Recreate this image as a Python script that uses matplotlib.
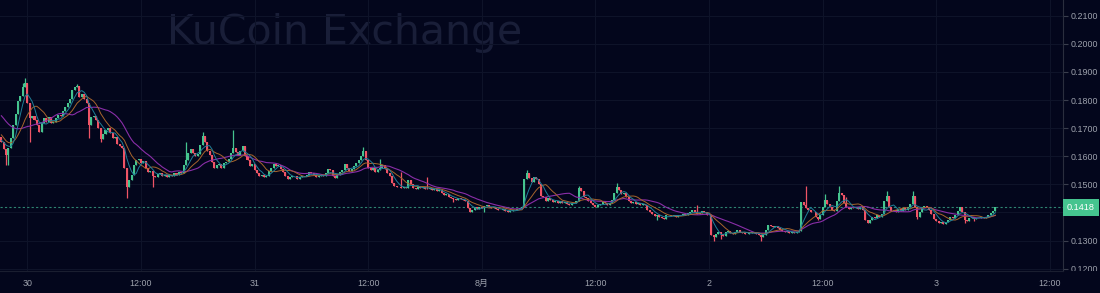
import numpy as np
import pandas as pd
import matplotlib
matplotlib.use("Agg")
import matplotlib.pyplot as plt
import matplotlib.transforms as mtransforms

plt.rcParams['font.family'] = ['Liberation Sans', 'Noto Sans CJK JP', 'DejaVu Sans']

# 15 minute closes, first candle at Jul 29 21:15
closes = [
    0.1650, 0.1625, 0.1605, 0.1630, 0.1665, 0.1710, 0.1752, 0.1795,
    0.1815, 0.1845, 0.1860, 0.1790, 0.1735, 0.1745, 0.1728, 0.1712,
    0.1685, 0.1720, 0.1735, 0.1722, 0.1738, 0.1718, 0.1722, 0.1735,
    0.1748, 0.1742, 0.1762, 0.1775, 0.1790, 0.1805, 0.1835, 0.1848,
    0.1850, 0.1812, 0.1822, 0.1805, 0.1790, 0.1712, 0.1738, 0.1745,
    0.1730, 0.1700, 0.1662, 0.1680, 0.1695, 0.1700, 0.1682, 0.1665,
    0.1670, 0.1645, 0.1638, 0.1630, 0.1560, 0.1490, 0.1515, 0.1535,
    0.1570, 0.1585, 0.1590, 0.1575, 0.1582, 0.1560, 0.1545, 0.1548,
    0.1530, 0.1525, 0.1538, 0.1542, 0.1530, 0.1535, 0.1525, 0.1532,
    0.1528, 0.1540, 0.1535, 0.1545, 0.1540, 0.1570, 0.1585, 0.1610,
    0.1625, 0.1612, 0.1600, 0.1608, 0.1640, 0.1672, 0.1650, 0.1620,
    0.1605, 0.1580, 0.1560, 0.1568, 0.1572, 0.1560, 0.1575, 0.1578,
    0.1590, 0.1612, 0.1628, 0.1615, 0.1605, 0.1620, 0.1638, 0.1600,
    0.1585, 0.1565, 0.1572, 0.1550, 0.1540, 0.1528, 0.1535, 0.1525,
    0.1530, 0.1548, 0.1560, 0.1572, 0.1565, 0.1570, 0.1555, 0.1545,
    0.1530, 0.1520, 0.1525, 0.1530, 0.1528, 0.1520, 0.1525, 0.1530,
    0.1528, 0.1535, 0.1545, 0.1540, 0.1532, 0.1525, 0.1530, 0.1535,
    0.1530, 0.1540, 0.1555, 0.1550, 0.1528, 0.1522, 0.1535, 0.1545,
    0.1552, 0.1572, 0.1560, 0.1548, 0.1555, 0.1565, 0.1575, 0.1585,
    0.1600, 0.1618, 0.1585, 0.1560, 0.1550, 0.1558, 0.1545, 0.1552,
    0.1560, 0.1570, 0.1555, 0.1540, 0.1530, 0.1505, 0.1495, 0.1490,
    0.1492, 0.1488, 0.1490, 0.1487, 0.1515, 0.1500, 0.1488, 0.1485,
    0.1490, 0.1487, 0.1492, 0.1485, 0.1482, 0.1488, 0.1480, 0.1485,
    0.1478, 0.1480, 0.1468, 0.1462, 0.1465, 0.1455, 0.1450, 0.1448,
    0.1445, 0.1450, 0.1448, 0.1445, 0.1440, 0.1415, 0.1402, 0.1410,
    0.1420, 0.1412, 0.1418, 0.1415, 0.1422, 0.1428, 0.1420, 0.1415,
    0.1418, 0.1412, 0.1410, 0.1408, 0.1412, 0.1405, 0.1402, 0.1405,
    0.1408, 0.1410, 0.1412, 0.1415, 0.1418, 0.1520, 0.1540, 0.1522,
    0.1510, 0.1525, 0.1520, 0.1500, 0.1460, 0.1455, 0.1440, 0.1450,
    0.1445, 0.1438, 0.1442, 0.1435, 0.1440, 0.1432, 0.1438, 0.1430,
    0.1425, 0.1435, 0.1432, 0.1440, 0.1488, 0.1475, 0.1455, 0.1450,
    0.1440, 0.1435, 0.1428, 0.1418, 0.1425, 0.1430, 0.1438, 0.1432,
    0.1428, 0.1435, 0.1445, 0.1470, 0.1490, 0.1480, 0.1465, 0.1468,
    0.1455, 0.1440, 0.1435, 0.1438, 0.1430, 0.1432, 0.1428, 0.1430,
    0.1425, 0.1410, 0.1400, 0.1395, 0.1388, 0.1392, 0.1385, 0.1380,
    0.1378, 0.1390, 0.1392, 0.1388, 0.1390, 0.1385, 0.1392, 0.1390,
    0.1395, 0.1392, 0.1398, 0.1402, 0.1408, 0.1400, 0.1395, 0.1398,
    0.1405, 0.1400, 0.1392, 0.1390, 0.1320, 0.1312, 0.1322, 0.1330,
    0.1325, 0.1318, 0.1330, 0.1335, 0.1328, 0.1322, 0.1330, 0.1338,
    0.1332, 0.1328, 0.1325, 0.1322, 0.1328, 0.1330, 0.1328, 0.1325,
    0.1320, 0.1312, 0.1320, 0.1338, 0.1355, 0.1352, 0.1348, 0.1352,
    0.1345, 0.1338, 0.1335, 0.1330, 0.1335, 0.1328, 0.1330, 0.1326,
    0.1330, 0.1335, 0.1438, 0.1425, 0.1415, 0.1410, 0.1402, 0.1400,
    0.1385, 0.1378, 0.1390, 0.1420, 0.1445, 0.1430, 0.1418, 0.1410,
    0.1405, 0.1440, 0.1470, 0.1462, 0.1435, 0.1420, 0.1412, 0.1418,
    0.1415, 0.1420, 0.1412, 0.1418, 0.1410, 0.1375, 0.1362, 0.1372,
    0.1385, 0.1380, 0.1390, 0.1385, 0.1395, 0.1440, 0.1458, 0.1420,
    0.1405, 0.1410, 0.1402, 0.1412, 0.1405, 0.1415, 0.1410, 0.1418,
    0.1430, 0.1460, 0.1420, 0.1385, 0.1400, 0.1418, 0.1422, 0.1418,
    0.1410, 0.1395, 0.1378, 0.1368, 0.1362, 0.1365, 0.1360, 0.1365,
    0.1375, 0.1385, 0.1382, 0.1390, 0.1405, 0.1420, 0.1400, 0.1375,
    0.1370, 0.1380, 0.1385, 0.1378, 0.1382, 0.1380, 0.1385, 0.1380,
    0.1385, 0.1390, 0.1398, 0.1405, 0.1418,
]

# closes before the visible window, only used to warm up the moving averages
prior_closes = [
    0.1810, 0.1815, 0.1822, 0.1818, 0.1812, 0.1808, 0.1815, 0.1820,
    0.1812, 0.1805, 0.1812, 0.1798, 0.1735, 0.1710, 0.1690, 0.1675,
    0.1668, 0.1660, 0.1655, 0.1650, 0.1668,
]

# visible wicks (candle index -> price)
wick_highs = {9: 0.1862, 10: 0.1880, 32: 0.1858, 78: 0.1650, 85: 0.1688,
              98: 0.1695, 153: 0.1632, 160: 0.1590, 169: 0.1545, 180: 0.1525,
              222: 0.1550, 244: 0.1495, 260: 0.1505, 294: 0.1425, 340: 0.1495,
              348: 0.1465, 354: 0.1495, 357: 0.1455, 374: 0.1475, 385: 0.1475}
wick_lows = {2: 0.1570, 3: 0.1568, 12: 0.1650, 37: 0.1665, 42: 0.1650,
             53: 0.1452, 64: 0.1490, 191: 0.1438, 204: 0.1402, 277: 0.1372,
             301: 0.1300, 304: 0.1305, 321: 0.1300, 345: 0.1373, 387: 0.1378,
             407: 0.1362, 411: 0.1368}

last_price = 0.1418
x_ticks = [0, 0.5, 1, 1.5, 2, 2.5, 3, 3.5, 4, 4.5]
x_labels = ['30', '12:00', '31', '12:00', '8月', '12:00', '2', '12:00', '3', '12:00']
y_ticks = [0.12, 0.13, 0.14, 0.15, 0.16, 0.17, 0.18, 0.19, 0.20, 0.21]

BG = '#03061c'
GRID = '#0e1329'
UP = '#45c48f'
DOWN = '#ef5466'
TXT = '#9ea2ad'

n = len(closes)
t = -2.75 / 24 + np.arange(n) / 96.0   # days since Jul 30 00:00
opens = [prior_closes[-1]] + closes[:-1]
highs, lows = [], []
for i, (o, c) in enumerate(zip(opens, closes)):
    highs.append(max(o, c, wick_highs.get(i, 0)))
    lows.append(min(o, c, wick_lows.get(i, 1)))

series = pd.Series(prior_closes + closes)
k = len(prior_closes)
ma5 = series.rolling(5).mean().iloc[k:].values
ma10 = series.rolling(10).mean().iloc[k:].values
ma20 = series.rolling(20).mean().iloc[k:].values

fig = plt.figure(figsize=(11, 2.93), dpi=100, facecolor=BG)
ax = fig.add_axes([0, 22 / 293, 1063 / 1100, 271 / 293])
ax.set_facecolor(BG)

ax.text(167 / 1063, (271 - 44) / 271, 'KuCoin Exchange', transform=ax.transAxes,
        family='DejaVu Sans', fontsize=29.5, color='#191e38', va='baseline',
        ha='left', zorder=0)

ax.set_xticks(x_ticks)
ax.set_xticklabels(x_labels)
ax.set_yticks(y_ticks)
ax.set_yticklabels(['%.4f' % v for v in y_ticks])
ax.grid(True, color=GRID, lw=0.8, zorder=0)
ax.set_axisbelow(True)

up = np.array(closes) >= np.array(opens)
colors = np.where(up, UP, DOWN)
bottoms = np.minimum(opens, closes)
heights = np.maximum(np.abs(np.array(closes) - np.array(opens)), 0.00005)
w = 0.85 / 96
ax.vlines(t, lows, highs, colors=colors, lw=0.9, zorder=2)
ax.bar(t, heights, width=w, bottom=bottoms, color=colors, lw=0, zorder=3)

ax.plot(t, ma20, color='#8a2ea8', lw=0.8, zorder=4)
ax.plot(t, ma10, color='#a8652c', lw=0.7, zorder=4)
ax.plot(t, ma5, color='#1f7f98', lw=0.7, zorder=4)

ax.axhline(last_price, color='#3aa487', lw=0.8, ls=(0, (2, 2)), alpha=0.8, zorder=1)

ax.set_xlim(-0.1206, 4.558)
ax.set_ylim(0.11918, 0.21559)

ax.yaxis.tick_right()
ax.tick_params(axis='y', length=3.5, width=0.8, color='#3a3e4d', labelsize=6.4,
               labelcolor=TXT, pad=2)
ax.tick_params(axis='x', length=0, labelsize=6.4, labelcolor=TXT, pad=6)
for side in ['top', 'left']:
    ax.spines[side].set_visible(False)
ax.spines['right'].set_color('#2a2e3e')
ax.spines['bottom'].set_color('#1a1e30')
ax.spines['right'].set_linewidth(0.8)
ax.spines['bottom'].set_linewidth(0.8)

# the lowest price label is cut by the time axis
clip = mtransforms.Bbox.from_extents(0, 22, 1100, 293)
for lbl in ax.get_yticklabels():
    lbl.set_clip_box(clip)
    lbl.set_clip_on(True)

trans = mtransforms.blended_transform_factory(fig.transFigure, ax.transData)
ax.text(1067 / 1100, last_price, '%.4f' % last_price, transform=trans,
        fontsize=6.6, color='white', va='center', ha='left', zorder=6,
        bbox=dict(boxstyle='square,pad=0.45', fc=UP, ec='none'))

fig.savefig('out.png', dpi=100, facecolor=BG)
